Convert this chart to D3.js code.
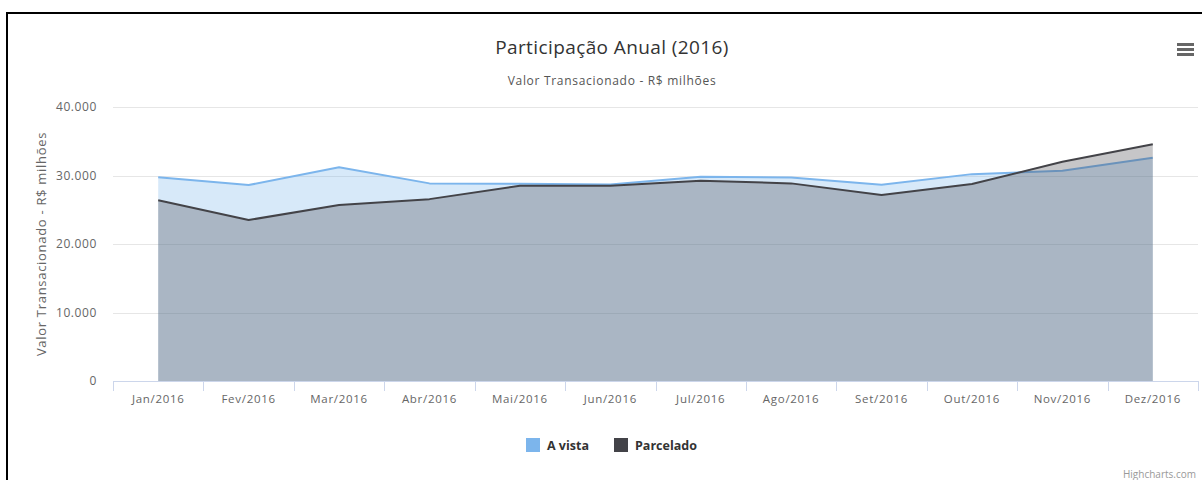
<!DOCTYPE html>
<html><head><meta charset="utf-8">
<script src="https://cdn.jsdelivr.net/npm/d3@7/dist/d3.min.js"></script>
<style>body{margin:0;background:#fff;}svg{display:block;font-family:"Open Sans",sans-serif;}</style>
</head><body><svg id="c" width="1202" height="480"></svg>
<script>
const categories = ["Jan/2016","Fev/2016","Mar/2016","Abr/2016","Mai/2016","Jun/2016","Jul/2016","Ago/2016","Set/2016","Out/2016","Nov/2016","Dez/2016"];
const aVista = [29750, 28600, 31200, 28850, 28800, 28700, 29800, 29700, 28650, 30200, 30700, 32600];
const parcelado = [26400, 23500, 25700, 26550, 28500, 28500, 29250, 28850, 27150, 28750, 32000, 34550];
const yTicks = [0, 10000, 20000, 30000, 40000];
const seriesNames = ["A vista", "Parcelado"];
const seriesColors = ["#7cb5ec", "#434348"];

(function(){
const svg = d3.select("#c");
const pL = 113, pR = 1198, pT = 107, pB = 381;
const x = d3.scaleBand().domain(categories).range([pL, pR]);
const y = d3.scaleLinear().domain([0, 40000]).range([pB, pT]);
const fmt = v => d3.format(",")(v).replace(/,/g, ".");

// frame
svg.append("path").attr("d", "M7,480 L7,13 L1202,13").attr("fill","none").attr("stroke","#000").attr("stroke-width",2);

// title
svg.append("text").attr("x", 612).attr("y", 54).attr("text-anchor","middle").attr("fill","#333").attr("font-size",19).attr("letter-spacing",0.4).text("Participação Anual (2016)");
svg.append("text").attr("x", 612).attr("y", 85).attr("text-anchor","middle").attr("fill","#555").attr("font-size",12).attr("letter-spacing",0.7).text("Valor Transacionado - R$ milhões");

// menu icon
[0,5,10].forEach(d=>svg.append("rect").attr("x",1177).attr("y",43+d).attr("width",17).attr("height",3).attr("fill","#666"));

// grid
svg.append("g").selectAll("line").data(yTicks.filter(d=>d>0)).join("line")
  .attr("x1", pL).attr("x2", pR).attr("y1", d=>Math.round(y(d))+0.5).attr("y2", d=>Math.round(y(d))+0.5)
  .attr("stroke","#e6e6e6");

// y axis labels
svg.append("g").selectAll("text").data(yTicks).join("text")
  .attr("x", 97).attr("y", d=>y(d)+4).attr("text-anchor","end").attr("fill","#666").attr("font-size",12).attr("letter-spacing",0.6).text(fmt);

svg.append("text").attr("transform",`translate(46,${(pT+pB)/2}) rotate(-90)`).attr("text-anchor","middle")
  .attr("fill","#666").attr("font-size",13).attr("letter-spacing",0.7).text("Valor Transacionado - R$ milhões");

// series
const cx = c => x(c) + x.bandwidth()/2;
[aVista, parcelado].forEach((vals,i)=>{
  const data = categories.map((c,j)=>({c, v: vals[j]}));
  const area = d3.area().x(d=>cx(d.c)).y0(y(0)).y1(d=>y(d.v));
  const line = d3.line().x(d=>cx(d.c)).y(d=>y(d.v));
  svg.append("path").datum(data).attr("d", area).attr("fill", seriesColors[i]).attr("fill-opacity",0.3);
  svg.append("path").datum(data).attr("d", line).attr("fill","none").attr("stroke", seriesColors[i]).attr("stroke-width",2).attr("stroke-linejoin","round");
});

// x axis
const gx = svg.append("g").attr("transform",`translate(0,${pB})`);
gx.append("line").attr("x1", pL).attr("x2", pR).attr("y1",0.5).attr("y2",0.5).attr("stroke","#ccd6eb");
gx.selectAll("line.t").data(categories.concat(["_end"])).join("line").attr("class","t")
  .attr("x1",(d,i)=>Math.round(pL + i*x.bandwidth())+0.5).attr("x2",(d,i)=>Math.round(pL + i*x.bandwidth())+0.5)
  .attr("y1",0).attr("y2",10).attr("stroke","#ccd6eb");
gx.selectAll("text").data(categories).join("text")
  .attr("x", d=>cx(d)).attr("y", 22).attr("text-anchor","middle").attr("fill","#666").attr("font-size",11.5).attr("letter-spacing",0.7).text(d=>d);

// legend
const legend = svg.append("g");
const lx = [526, 614];
seriesNames.forEach((n,i)=>{
  legend.append("rect").attr("x",lx[i]).attr("y",438).attr("width",14).attr("height",14).attr("fill",seriesColors[i]);
  legend.append("text").attr("x",lx[i]+21).attr("y",450).attr("fill","#333").attr("font-size",12.5).attr("font-weight","bold").text(n);
});

// credits
svg.append("text").attr("x",1196).attr("y",478).attr("text-anchor","end").attr("fill","#999").attr("font-size",10).text("Highcharts.com");
})();
</script></body></html>
